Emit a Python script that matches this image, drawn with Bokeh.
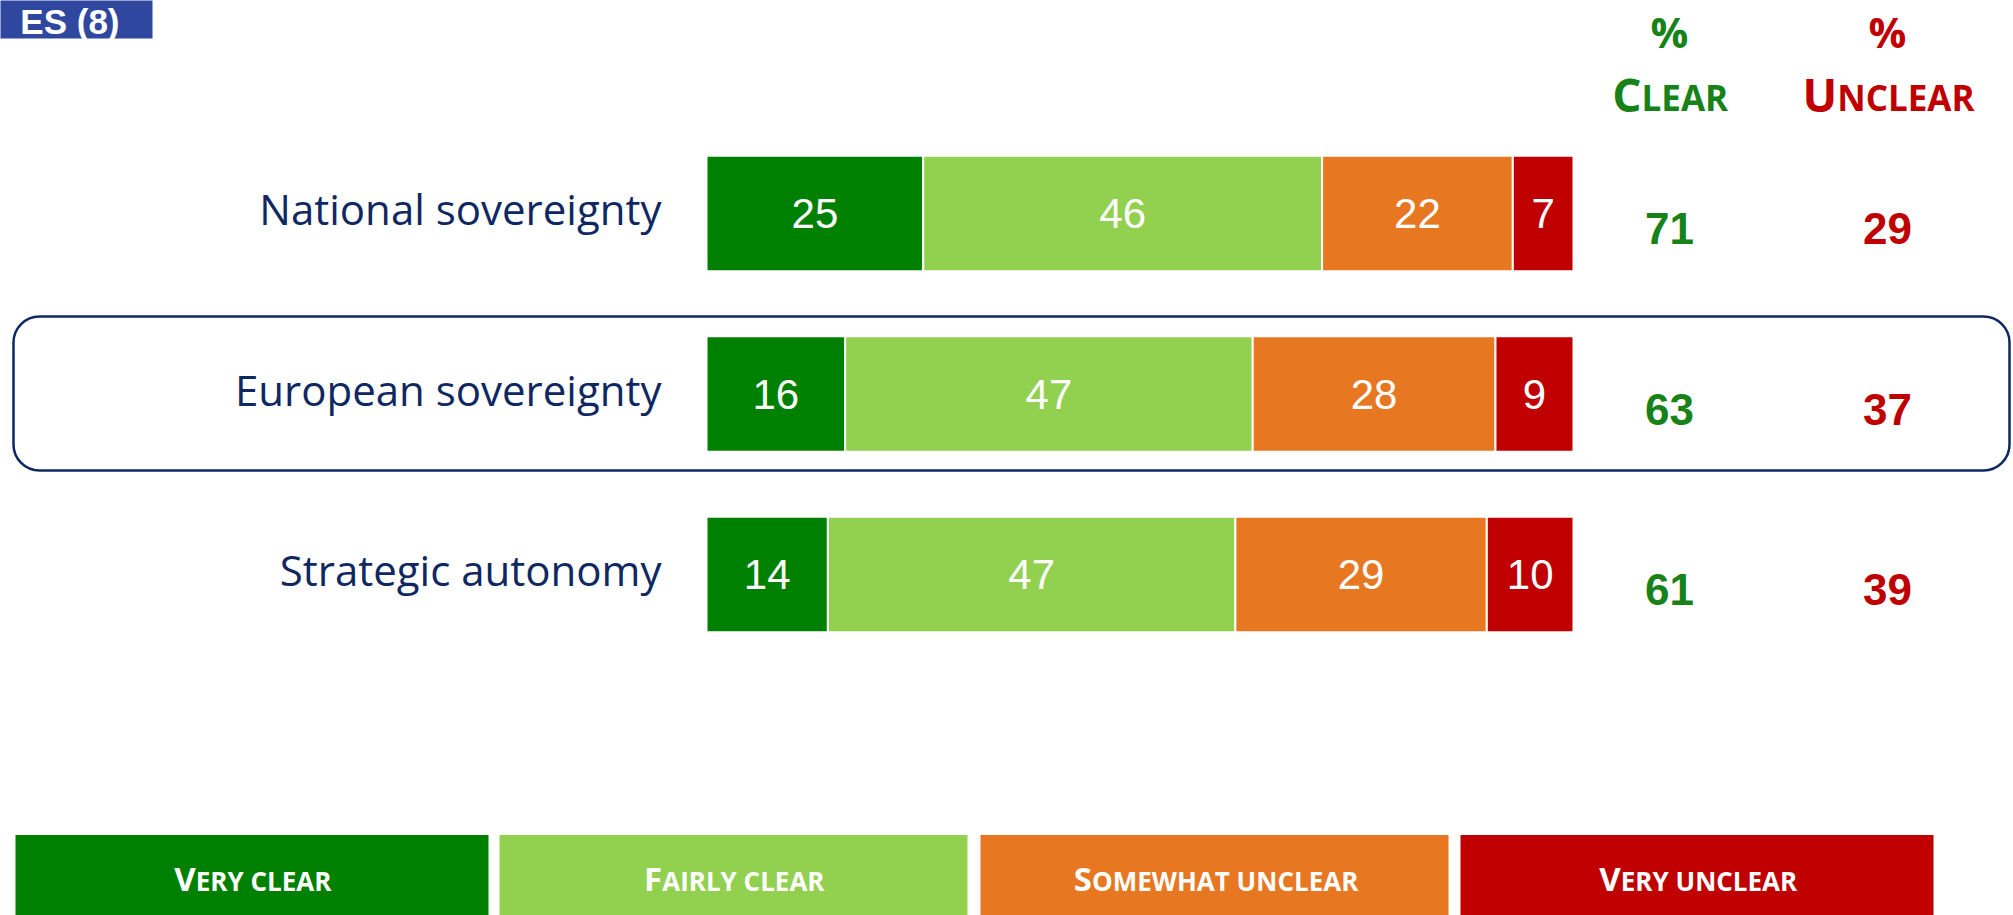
from bokeh.plotting import figure
from bokeh.models import Range1d, BoxAnnotation
from bokeh.core.properties import value
from bokeh.embed import file_html
from bokeh.resources import INLINE

# ---------------- data ----------------
categories = ["National sovereignty", "European sovereignty", "Strategic autonomy"]
very_clear = [25, 16, 14]
fairly_clear = [46, 47, 47]
somewhat_unclear = [22, 28, 29]
very_unclear = [7, 9, 10]
total_clear = [71, 63, 61]
total_unclear = [29, 37, 39]
series_names = ["Very clear", "Fairly clear", "Somewhat unclear", "Very unclear"]
header_clear = "Clear"
header_unclear = "Unclear"
tab_text = "ES (8)"

# ---------------- styles ----------------
colors = ["#008000", "#92D050", "#E87722", "#C00000"]
NAVY = "#0F2862"
GREEN_TXT = "#178217"
RED_TXT = "#C00000"
TAB = "#3047A0"

# pixel geometry helpers (reference pixel -> data units)
PX0, PXS = 706.0, 8.67      # x: 0% at 706px, 1% = 8.67px
PY0, PYS = 213.0, 180.5     # y: row 0 centre at 213px, 180.5px per row
def X(px): return (px - PX0) / PXS
def Y(py): return (py - PY0) / PYS

W, H = 2013, 915
p = figure(width=W, height=H,
           x_range=Range1d(X(0), X(W)),
           y_range=Range1d(Y(H), Y(0)),
           output_backend="svg", toolbar_location=None,
           min_border=0, outline_line_color=None,
           x_axis_location=None, y_axis_location=None)
p.grid.visible = False
p.background_fill_color = "white"
p.border_fill_color = "white"

rows = list(range(len(categories)))
series = [very_clear, fairly_clear, somewhat_unclear, very_unclear]

# highlight box around European sovereignty
p.add_layout(BoxAnnotation(left=X(13), right=X(2009), top=Y(316), bottom=Y(470),
                           fill_alpha=0, line_color=NAVY, line_alpha=1.0,
                           line_width=2.5, border_radius=26))

# stacked bars
left = [0] * len(rows)
for vals, c in zip(series, colors):
    right = [l + v for l, v in zip(left, vals)]
    p.hbar(y=rows, left=left, right=right, height=0.64, fill_color=c,
           line_color="white", line_width=2)
    mids = [(l + r) / 2 for l, r in zip(left, right)]
    p.text(x=mids, y=rows, text=[str(v) for v in vals], text_align="center",
           text_baseline="middle", text_font=value("Liberation Sans"),
           text_font_size="42px", text_color="white")
    left = right

# category labels
p.text(x=[X(661)] * len(rows), y=[r - 0.025 for r in rows], text=categories,
       text_align="right", text_baseline="middle", text_font=value("Open Sans"),
       text_font_size="42px", text_color=NAVY)

# totals
p.text(x=[X(1669)] * len(rows), y=[r + 0.085 for r in rows],
       text=[str(v) for v in total_clear], text_align="center", text_baseline="middle",
       text_font=value("Liberation Sans"), text_font_style="bold",
       text_font_size="44px", text_color=GREEN_TXT)
p.text(x=[X(1887)] * len(rows), y=[r + 0.085 for r in rows],
       text=[str(v) for v in total_unclear], text_align="center", text_baseline="middle",
       text_font=value("Liberation Sans"), text_font_style="bold",
       text_font_size="44px", text_color=RED_TXT)

# small-caps helper
W_EM = {"A": .69, "C": .64, "E": .55, "F": .54, "H": .75, "I": .32, "L": .54,
        "M": .93, "N": .78, "O": .78, "R": .66, "S": .56, "T": .57, "U": .75,
        "V": .66, "W": .99, "Y": .62, " ": .26}
BASE_FIX = 0.36   # baseline correction (fraction of font size)
def sc_w(s, size):
    return sum(W_EM.get(ch, .6) for ch in s) * size

def small_caps(x, y, word, big, small, color):
    first, rest = word[0], word[1:].upper()
    wf, wr = sc_w(first, big), sc_w(rest, small)
    off = -(wf + wr) / 2 + wf
    common = dict(text_baseline="alphabetic", text_font=value("Open Sans"),
                  text_font_style="bold", text_color=color, x_offset=off)
    p.text(x=[x], y=[y], text=[first], text_align="right",
           y_offset=-BASE_FIX * big, text_font_size=f"{big}px", **common)
    p.text(x=[x], y=[y], text=[rest], text_align="left",
           y_offset=-BASE_FIX * small, text_font_size=f"{small}px", **common)

# headers
for xc, word, col in [(X(1669), header_clear, GREEN_TXT), (X(1887), header_unclear, RED_TXT)]:
    p.text(x=[xc], y=[Y(31)], text=["%"], text_align="center", text_baseline="middle",
           text_font=value("Open Sans"), text_font_style="bold",
           text_font_size="42px", text_color=col)
    small_caps(xc, Y(110), word, 46, 35, col)

# legend boxes
leg_l = [X(15), X(499), X(980), X(1460)]
leg_r = [X(488), X(967), X(1448), X(1933)]
p.quad(left=leg_l, right=leg_r, top=Y(834.5), bottom=Y(930), fill_color=colors,
       line_color=None)
for l, r, name in zip(leg_l, leg_r, series_names):
    small_caps((l + r) / 2, Y(890), name, 33, 26, "white")

# top-left tab
p.quad(left=[X(-5)], right=[X(152)], top=[Y(-5)], bottom=[Y(38)], fill_color=TAB,
       line_color=None)
p.text(x=[X(119)], y=[Y(21)], text=[tab_text], text_align="right",
       text_baseline="middle", text_font=value("Liberation Sans"),
       text_font_style="bold", text_font_size="35px", text_color="white")

open("out.html", "w").write(file_html(p, INLINE))
